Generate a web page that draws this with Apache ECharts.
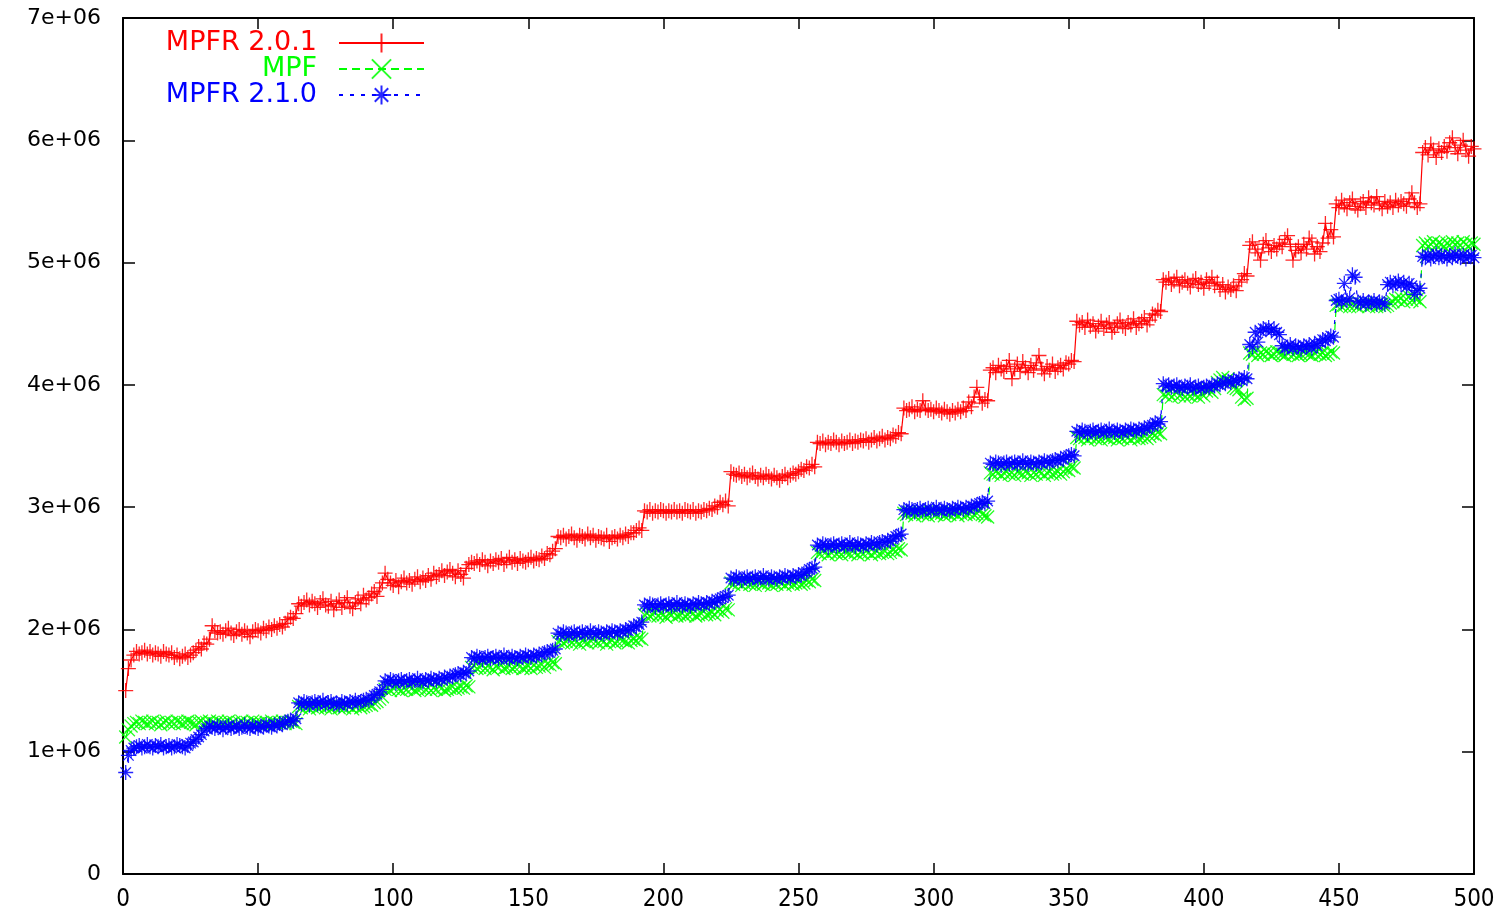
<!DOCTYPE html>
<html>
<head>
<meta charset="utf-8">
<script src="https://cdn.jsdelivr.net/npm/echarts@6/dist/echarts.min.js"></script>
<style>
html,body{margin:0;padding:0;background:#fff;}
#chart{width:1511px;height:916px;}
</style>
</head>
<body>
<div id="chart"></div>
<script>
// Values in units of 1e4 (i.e. 150 = 1.50e+06); x runs 1..500
const seriesNames = ['MPFR 2.0.1', 'MPF', 'MPFR 2.1.0'];
const xTicks = [0, 50, 100, 150, 200, 250, 300, 350, 400, 450, 500];
const yTicks = [0, 1e6, 2e6, 3e6, 4e6, 5e6, 6e6, 7e6];

const mpfr201 = [
150,168,175,179,182,180,181,183,180,182,179,181,180,178,182,180,179,181,177,179,176,178,180,177,179,181,183,186,184,189,188,192,
203,199,197,198,196,199,201,197,195,198,200,196,199,197,194,198,200,199,197,201,199,202,200,203,201,204,202,205,208,210,209,213,
221,219,222,224,220,223,221,218,222,225,220,219,223,216,221,224,218,222,226,219,217,222,225,221,228,224,226,229,231,227,234,238,
246,241,238,236,240,235,239,242,238,240,237,241,243,239,242,240,244,241,246,243,245,248,244,247,249,246,243,248,245,242,250,253,
255,254,256,253,257,255,252,256,254,257,255,258,253,256,259,255,257,254,258,256,255,257,259,256,258,257,260,258,262,261,264,266,
276,275,277,274,276,278,275,273,277,276,274,278,275,277,273,276,275,274,277,272,275,276,274,277,275,278,276,279,279,281,283,281,
297,296,298,295,297,296,298,297,295,297,296,298,296,297,295,298,297,296,298,295,297,296,298,297,299,298,301,300,304,302,305,301,
329,327,326,328,325,327,324,326,328,325,323,326,324,327,325,323,326,324,322,325,327,324,326,328,327,329,331,330,333,332,335,333,
353,352,354,351,353,352,355,353,351,354,352,353,355,352,354,353,355,354,356,353,355,357,354,356,358,355,357,356,359,358,361,360,
381,379,380,382,378,380,379,387,381,379,380,378,381,379,377,380,378,376,379,377,380,378,381,379,386,382,390,398,390,385,388,387,
412,414,410,416,413,411,415,420,405,413,417,411,419,414,410,416,412,418,424,413,409,415,412,417,411,414,416,413,418,417,420,419,
452,449,451,447,453,448,450,444,448,452,446,449,451,443,447,450,453,448,446,451,449,454,447,450,452,455,449,453,458,457,461,460,
486,484,487,482,485,488,481,484,486,483,480,485,487,482,484,479,486,483,488,481,484,478,482,476,480,478,481,477,484,486,491,489,
514,517,511,508,502,515,518,512,509,514,511,516,513,519,522,515,502,510,513,508,515,511,520,517,507,513,509,516,532,520,527,521,
548,545,551,547,544,549,552,546,543,548,550,545,553,549,547,554,548,544,550,546,549,545,551,547,550,548,546,552,557,549,545,548,
590,594,588,597,592,586,593,590,595,591,598,602,594,589,596,600,592,587,595,593
];

const mpf = [
112,118,121,123,124,123,125,124,123,124,125,123,124,122,124,125,123,124,123,125,124,123,124,125,124,123,122,124,125,123,124,125,
124,123,125,124,123,124,125,123,124,122,124,125,123,124,123,125,124,123,124,122,124,123,125,124,123,124,125,123,124,125,124,123,
137,136,138,137,135,137,138,136,137,138,136,137,135,137,138,136,137,136,138,137,135,137,138,136,137,138,139,138,140,141,143,145,
151,152,150,152,153,151,150,152,151,153,152,150,151,152,153,151,152,150,152,151,153,152,150,151,152,153,151,152,153,152,154,153,
169,170,168,169,171,168,170,169,167,170,169,171,168,169,170,168,169,171,170,168,169,170,168,171,169,170,171,169,172,171,173,172,
190,191,189,190,192,189,191,190,188,191,190,189,191,192,190,189,191,190,188,190,191,189,190,192,191,190,189,191,192,191,193,192,
212,213,211,212,214,211,213,212,210,213,212,214,211,212,213,211,212,214,213,211,212,213,215,212,213,214,212,215,216,214,217,216,
238,237,239,238,236,238,239,237,238,236,239,238,237,239,238,236,238,237,239,238,236,238,239,237,238,239,237,238,240,239,241,240,
263,262,264,263,261,263,264,262,263,261,264,263,262,264,263,261,263,262,264,263,261,263,264,262,263,264,262,263,265,264,266,265,
295,294,296,295,293,295,296,294,295,293,296,295,294,296,295,293,295,294,296,295,293,295,296,294,295,296,294,295,297,294,293,292,
328,327,329,328,326,328,329,327,328,326,329,328,327,329,328,326,328,327,329,328,326,328,329,327,328,329,327,329,331,330,333,332,
357,356,358,357,355,357,358,356,357,355,358,357,356,358,357,355,357,356,358,357,355,357,358,356,357,358,356,358,360,359,361,360,
392,391,393,390,392,394,391,393,390,392,391,393,392,390,393,391,395,396,394,397,402,404,406,403,405,402,398,397,396,390,388,389,
426,425,427,424,426,425,427,426,424,425,427,426,425,424,426,427,425,426,424,425,427,426,425,424,426,427,425,426,424,425,427,426,
465,466,464,465,467,464,466,465,464,466,465,467,464,465,466,464,465,466,464,465,467,468,470,469,471,468,470,472,469,471,470,468,
514,516,513,515,517,514,516,515,513,516,514,517,515,516,514,517,515,513,516,515
];

const mpfr210 = [
83,97,101,103,104,105,103,104,106,104,103,105,104,106,103,104,105,103,104,106,105,104,103,105,107,108,110,112,114,117,119,121,
120,119,121,120,118,120,121,119,120,121,119,120,122,120,119,121,120,119,121,120,122,121,120,122,121,123,122,124,125,126,125,127,
140,139,141,140,138,140,141,139,140,142,139,140,141,139,140,138,141,140,139,141,140,142,140,141,142,143,142,144,146,147,149,151,
158,157,159,158,156,158,159,157,158,159,157,158,160,158,157,159,158,160,159,158,160,159,161,160,162,161,163,164,163,165,164,166,
177,176,178,177,175,177,178,176,177,178,176,177,179,177,176,178,177,176,178,177,179,178,177,179,178,180,179,181,182,181,183,184,
197,196,198,197,195,197,198,196,197,198,196,197,199,197,196,198,197,196,198,197,199,198,197,199,198,200,199,201,203,202,204,206,
220,219,221,220,218,220,221,219,220,221,219,220,222,220,219,221,220,219,221,220,222,221,220,222,221,223,222,224,225,226,227,228,
242,241,243,242,240,242,243,241,242,243,241,242,244,242,241,243,242,241,243,242,244,243,242,244,243,245,244,246,247,249,250,251,
269,268,270,269,267,269,270,268,269,270,268,269,271,269,268,270,269,268,270,269,271,270,269,271,272,271,273,272,274,276,277,278,
298,297,299,298,296,298,299,297,298,299,297,298,300,298,297,299,298,297,299,298,300,299,298,300,299,301,300,302,303,304,303,305,
336,335,337,336,334,336,337,335,336,337,335,336,338,336,335,337,336,335,337,336,338,337,336,338,339,338,340,339,341,342,343,342,
362,361,363,362,360,362,363,361,362,363,361,362,364,362,361,363,362,361,363,362,364,363,362,364,363,365,364,366,367,369,368,370,
401,399,400,398,399,400,398,397,399,398,400,397,398,399,397,398,399,398,400,399,401,400,402,401,403,402,404,403,405,404,406,405,
433,431,443,435,444,446,445,447,444,446,443,441,432,430,431,433,430,432,431,429,432,431,433,430,434,432,435,437,436,438,440,439,
469,470,468,483,469,471,490,488,468,467,469,466,468,467,469,466,468,467,466,482,484,481,483,485,482,484,480,483,481,474,477,479,
505,504,506,503,505,507,504,506,505,503,506,504,507,505,504,506,503,505,506,504
];

const UNIT = 1e4;
function toPairs(arr) { return arr.map((v, i) => [i + 1, v * UNIT]); }

const PLUS = 'path://M0,6L12,6M6,0L6,12';
const CROSS = 'path://M0,0L10,10M10,0L0,10';
const STAR = 'path://M5,0L5,10M0,5L10,5M1.5,1.5L8.5,8.5M8.5,1.5L1.5,8.5';

const colors = ['#ff0000', '#00ff00', '#0000ff'];
const symbols = [PLUS, CROSS, STAR];
const symbolSizes = [15, 13, 15];
const lineTypes = ['solid', [8, 5], [4, 7]];
const datas = [mpfr201, mpf, mpfr210];

const chart = echarts.init(document.getElementById('chart'), null, {renderer: 'canvas'});

const series = seriesNames.map((name, k) => ({
  name: name,
  type: 'line',
  data: toPairs(datas[k]),
  symbol: symbols[k],
  symbolSize: symbolSizes[k],
  showAllSymbol: true,
  z: 2 + k,
  lineStyle: {color: colors[k], width: 1.2, type: lineTypes[k]},
  itemStyle: {color: colors[k], borderColor: colors[k], borderWidth: 1.3, opacity: 0.85},
  emphasis: {disabled: true}
}));

const legendTops = [28, 54, 80];
const legends = seriesNames.map((name, k) => ({
  data: [name],
  orient: 'vertical',
  align: 'right',
  right: 1511 - 425,
  top: legendTops[k],
  padding: 0,
  itemWidth: 85,
  itemHeight: 24,
  selectedMode: false,
  textStyle: {color: colors[k], fontSize: 27, fontFamily: '"DejaVu Sans", sans-serif', lineHeight: 30, padding: [0, 17, 0, 0]}
}));

const yFmt = v => v === 0 ? '0' : (v / 1e6) + 'e+06';

const option = {
  animation: false,
  backgroundColor: '#ffffff',
  grid: {left: 123, right: 37, top: 18, bottom: 42, containLabel: false},
  legend: legends,
  xAxis: [{
    type: 'value', min: xTicks[0], max: xTicks[xTicks.length - 1], interval: 50, position: 'bottom',
    axisLine: {show: true, onZero: false, lineStyle: {color: '#000', width: 2}},
    axisTick: {show: true, inside: true, length: 11, lineStyle: {color: '#000', width: 1.5}},
    axisLabel: {color: '#000', fontSize: 24, margin: 14, fontFamily: '"Liberation Sans Narrow", "DejaVu Sans Condensed", sans-serif'},
    splitLine: {show: false}
  }, {
    type: 'value', min: xTicks[0], max: xTicks[xTicks.length - 1], interval: 50, position: 'top',
    axisLine: {show: true, onZero: false, lineStyle: {color: '#000', width: 2}},
    axisTick: {show: true, inside: true, length: 11, lineStyle: {color: '#000', width: 1.5}},
    axisLabel: {show: false}, splitLine: {show: false}
  }],
  yAxis: [{
    type: 'value', min: yTicks[0], max: yTicks[yTicks.length - 1], interval: 1e6, position: 'left',
    axisLine: {show: true, onZero: false, lineStyle: {color: '#000', width: 2}},
    axisTick: {show: true, inside: true, length: 12, lineStyle: {color: '#000', width: 1.5}},
    axisLabel: {color: '#000', fontSize: 22, margin: 22, formatter: yFmt, fontFamily: '"DejaVu Sans", sans-serif'},
    splitLine: {show: false}
  }, {
    type: 'value', min: yTicks[0], max: yTicks[yTicks.length - 1], interval: 1e6, position: 'right',
    axisLine: {show: true, onZero: false, lineStyle: {color: '#000', width: 2}},
    axisTick: {show: true, inside: true, length: 12, lineStyle: {color: '#000', width: 1.5}},
    axisLabel: {show: false}, splitLine: {show: false}
  }],
  series: series
};

chart.setOption(option);
</script>
</body>
</html>
